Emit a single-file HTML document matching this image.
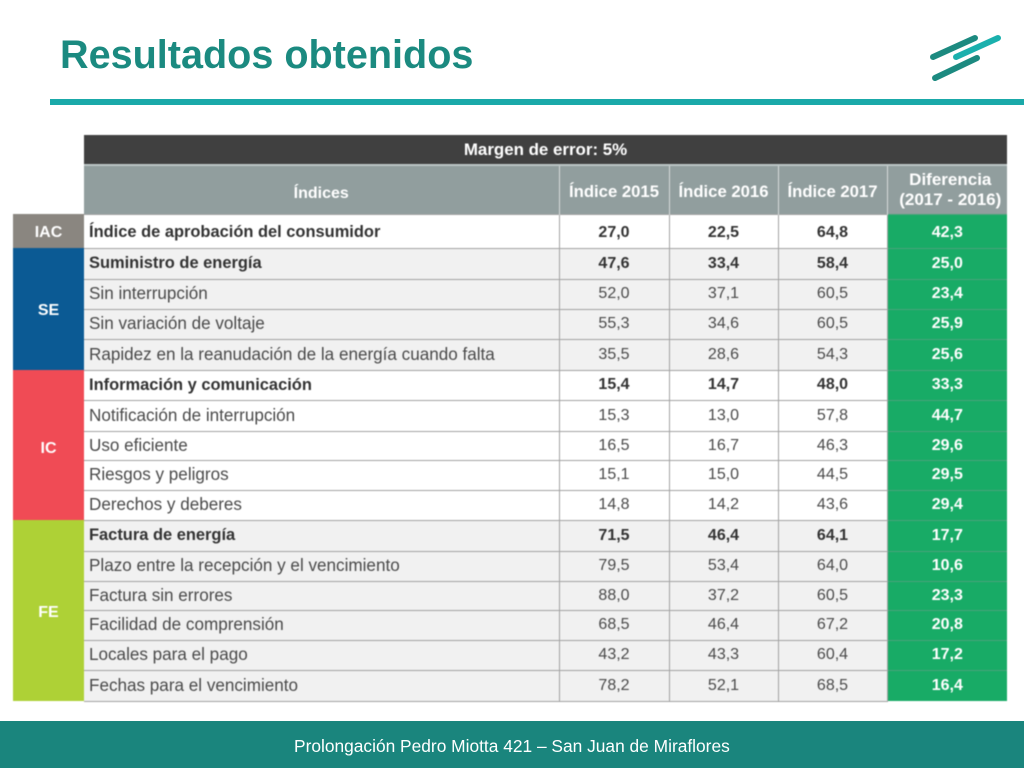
<!DOCTYPE html>
<html lang="es">
<head>
<meta charset="utf-8">
<title>Resultados obtenidos</title>
<style>
html,body{margin:0;padding:0;background:#fff}
body{width:1024px;height:768px;position:relative;overflow:hidden;font-family:"Liberation Sans",Arial,sans-serif}
#title{position:absolute;left:60px;top:31px;font-size:39.6px;line-height:48px;font-weight:bold;color:#1b8a80;white-space:nowrap}
#rule{position:absolute;left:50px;top:99px;width:974px;height:6px;background:#1aa9a9}
#logo{position:absolute;left:920px;top:25px}
#footer{position:absolute;left:0;top:721px;width:1024px;height:47px;background:#1a857d}
#footer-text{position:absolute;left:294px;top:14px;font-size:17.35px;line-height:22px;color:#fff;white-space:nowrap}
table{position:absolute;left:13px;top:135px;width:994px;border-collapse:collapse;table-layout:fixed;font-size:16px;color:#4a4a4a;filter:blur(.45px)}
td{padding:0;text-align:center;border:1px solid #a3a3a3;overflow:hidden;white-space:nowrap;background:#f1f1f1}
td.n{text-align:left;padding-left:5px;border-left:0;font-size:17.1px}
tr.w td{background:#fff}
tr.b td{font-weight:bold;color:#333}
tr.b td.n{font-size:16.45px}
tr.iac td{padding-top:3px}
td.blank{background:#fff;border:0}
td.dark{background:#404040;color:#fff;font-weight:bold;font-size:16.9px;border:0;border-bottom:2px solid #bcc5c5}
td.hd{background:#919e9e;color:#fff;font-weight:bold;font-size:16.7px;border:0;border-left:1.5px solid #d5dada;padding-top:5px}
td.hd.f{border-left:0;font-size:16px;padding-top:8px}
td.hd.d{font-size:17px;line-height:20px;padding-top:0;padding-left:6px}
tr td.g,tr.b td.g,tr.w td.g{color:#fff;font-weight:bold;background:#18ab66;border:0;border-top:1px solid #4aa37a}
tr td.grp,tr.b td.grp,tr.w td.grp{color:#fff;font-weight:bold;border:0}
td.grp.s{padding-top:4px}
td.grp.c{padding-top:8px}
</style>
</head>
<body>
<div id="title">Resultados obtenidos</div>
<svg id="logo" width="90" height="60" viewBox="0 0 90 60">
<line x1="13" y1="32" x2="55" y2="13" stroke="#1c8a80" stroke-width="6" stroke-linecap="round"/>
<line x1="36" y1="32" x2="78" y2="13" stroke="#1ab0ad" stroke-width="6" stroke-linecap="round"/>
<line x1="15" y1="53" x2="57" y2="33" stroke="#1c8a80" stroke-width="6" stroke-linecap="round"/>
</svg>
<div id="rule"></div>

<table>
<colgroup><col style="width:71px"><col style="width:475px"><col style="width:110px"><col style="width:109px"><col style="width:109px"><col style="width:120px"></colgroup>
<tr style="height:30px"><td class="blank"></td><td class="dark" colspan="5">Margen de error: 5%</td></tr>
<tr style="height:49px"><td class="blank"></td><td class="hd f">Índices</td><td class="hd">Índice 2015</td><td class="hd">Índice 2016</td><td class="hd">Índice 2017</td><td class="hd d">Diferencia<br>(2017 - 2016)</td></tr>

<tr class="w b iac" style="height:34px"><td class="grp" style="background:#8a8680">IAC</td><td class="n">Índice de aprobación del consumidor</td><td>27,0</td><td>22,5</td><td>64,8</td><td class="g">42,3</td></tr>

<tr class="b" style="height:31px"><td class="grp s" rowspan="4" style="background:#0b5a94">SE</td><td class="n">Suministro de energía</td><td>47,6</td><td>33,4</td><td>58,4</td><td class="g">25,0</td></tr>
<tr style="height:30px"><td class="n">Sin interrupción</td><td>52,0</td><td>37,1</td><td>60,5</td><td class="g">23,4</td></tr>
<tr style="height:30px"><td class="n">Sin variación de voltaje</td><td>55,3</td><td>34,6</td><td>60,5</td><td class="g">25,9</td></tr>
<tr style="height:31px"><td class="n">Rapidez en la reanudación de la energía cuando falta</td><td>35,5</td><td>28,6</td><td>54,3</td><td class="g">25,6</td></tr>

<tr class="w b" style="height:30px"><td class="grp c" rowspan="5" style="background:#f04b55">IC</td><td class="n">Información y comunicación</td><td>15,4</td><td>14,7</td><td>48,0</td><td class="g">33,3</td></tr>
<tr class="w" style="height:31px"><td class="n">Notificación de interrupción</td><td>15,3</td><td>13,0</td><td>57,8</td><td class="g">44,7</td></tr>
<tr class="w" style="height:29px"><td class="n">Uso eficiente</td><td>16,5</td><td>16,7</td><td>46,3</td><td class="g">29,6</td></tr>
<tr class="w" style="height:30px"><td class="n">Riesgos y peligros</td><td>15,1</td><td>15,0</td><td>44,5</td><td class="g">29,5</td></tr>
<tr class="w" style="height:30px"><td class="n">Derechos y deberes</td><td>14,8</td><td>14,2</td><td>43,6</td><td class="g">29,4</td></tr>

<tr class="b" style="height:31px"><td class="grp s" rowspan="6" style="background:#aed136">FE</td><td class="n">Factura de energía</td><td>71,5</td><td>46,4</td><td>64,1</td><td class="g">17,7</td></tr>
<tr style="height:30px"><td class="n">Plazo entre la recepción y el vencimiento</td><td>79,5</td><td>53,4</td><td>64,0</td><td class="g">10,6</td></tr>
<tr style="height:29px"><td class="n">Factura sin errores</td><td>88,0</td><td>37,2</td><td>60,5</td><td class="g">23,3</td></tr>
<tr style="height:30px"><td class="n">Facilidad de comprensión</td><td>68,5</td><td>46,4</td><td>67,2</td><td class="g">20,8</td></tr>
<tr style="height:30px"><td class="n">Locales para el pago</td><td>43,2</td><td>43,3</td><td>60,4</td><td class="g">17,2</td></tr>
<tr style="height:31px"><td class="n">Fechas para el vencimiento</td><td>78,2</td><td>52,1</td><td>68,5</td><td class="g">16,4</td></tr>
</table>

<div id="footer"><div id="footer-text">Prolongación Pedro Miotta 421 – San Juan de Miraflores</div></div>
</body>
</html>
